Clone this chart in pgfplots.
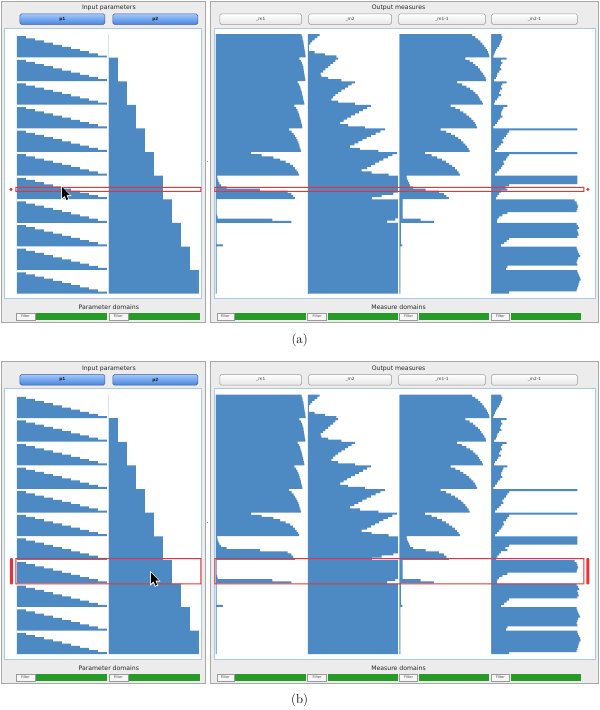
\documentclass[border=0pt]{standalone}
\usepackage{pgfplots}
\pgfplotsset{compat=1.18}
\usepackage{pgfplotstable}
\usepackage{fontspec}
\newfontfamily\ui{DejaVu Sans}
\definecolor{barblue}{RGB}{77,137,194}
\definecolor{framebg}{RGB}{236,236,236}
\definecolor{framedraw}{RGB}{168,168,168}
\definecolor{plotborder}{RGB}{172,202,232}
\definecolor{btop}{RGB}{160,200,250}
\definecolor{bbot}{RGB}{72,132,222}
\definecolor{bdraw}{RGB}{60,90,160}
\definecolor{gbar}{RGB}{38,156,38}
\definecolor{hlred}{RGB}{232,52,52}

\pgfplotstableread{
row p1 p2 m1 m2 m1i m2i
0 0 0 95.6 13.0 80.7 11.1
1 10 0 96.3 10.4 84.4 12.2
2 20 0 96.7 7.5 87.4 11.5
3 30 0 97.4 4.5 90.0 10.4
4 40 0 97.8 2.6 92.2 9.6
5 50 0 98.1 1.1 94.1 8.5
6 60 0 98.5 0.4 95.6 6.7
7 70 0 98.9 0.7 97.0 4.8
8 80 0 99.3 7.5 98.1 3.7
9 90 0 99.6 18.7 99.3 3.0
10 100 0 100 31.7 100 2.2
11 0 10 93.0 33.6 73.3 17.0
12 10 10 94.8 30.6 77.8 10.4
13 20 10 95.9 28.0 81.5 12.2
14 30 10 96.7 25.0 84.4 10.4
15 40 10 97.4 22.4 87.0 9.6
16 50 10 97.8 19.4 89.3 11.1
17 60 10 98.1 16.8 91.1 8.5
18 70 10 98.5 14.2 93.0 6.7
19 80 10 98.9 14.9 94.4 5.9
20 90 10 99.3 22.4 95.6 4.8
21 100 10 99.6 37.3 96.3 3.0
22 0 20 91.1 52.2 64.1 17.0
23 10 20 92.6 48.5 69.6 12.2
24 20 20 93.7 44.8 74.4 10.4
25 30 20 94.4 41.0 78.5 11.5
26 40 20 95.2 37.3 81.9 9.6
27 50 20 95.9 33.6 84.4 8.5
28 60 20 96.3 30.6 86.7 10.4
29 70 20 97.0 28.0 88.5 7.8
30 80 20 97.4 26.1 90.0 5.9
31 90 20 98.1 33.6 91.5 3.7
32 100 20 98.5 52.2 92.6 3.0
33 0 30 87.4 70.1 56.7 17.8
34 10 30 89.3 65.7 62.2 13.3
35 20 30 90.7 61.2 67.0 12.2
36 30 30 91.9 56.7 71.1 11.1
37 40 30 92.6 52.2 74.4 10.4
38 50 30 93.3 47.8 77.4 12.2
39 60 30 94.1 43.7 80.0 9.6
40 70 30 94.8 39.6 82.2 7.4
41 80 30 95.2 35.8 84.1 5.9
42 90 30 95.9 44.8 85.2 3.7
43 100 30 96.3 63.4 86.3 2.2
44 0 40 81.5 85.8 45.6 95.6
45 10 40 84.4 80.6 51.9 19.6
46 20 40 86.7 75.4 57.0 17.8
47 30 40 88.1 70.1 61.5 15.9
48 40 40 89.6 65.3 65.2 14.1
49 50 40 90.7 60.4 68.5 12.2
50 60 40 91.9 56.0 71.1 13.3
51 70 40 92.6 51.5 73.3 10.4
52 80 40 93.3 46.6 75.2 8.5
53 90 40 94.1 57.8 76.7 5.9
54 100 40 94.8 78.4 77.8 3.7
55 0 50 39.3 98.9 28.1 95.6
56 10 50 51.1 94.0 35.6 19.6
57 20 50 64.1 88.8 41.9 17.8
58 30 50 71.5 83.9 47.0 15.9
59 40 50 77.8 79.1 51.5 13.3
60 50 50 82.6 74.6 55.2 14.1
61 60 50 85.9 70.1 58.5 12.2
62 70 50 88.1 65.7 61.5 10.4
63 80 50 90.0 59.7 63.7 8.5
64 90 50 91.5 70.9 65.6 5.9
65 100 50 92.6 89.6 67.0 3.7
66 0 60 1.5 100 7.8 95.6
67 10 60 2.0 100 8.5 95.6
68 20 60 3.0 100 9.6 95.6
69 30 60 4.0 100 10.7 95.6
70 40 60 6.0 100 11.5 19.6
71 50 60 12.0 100 15.0 15.5
72 60 60 49.0 100 28.9 17.8
73 70 60 80.0 100 43.7 10.4
74 80 60 84.0 95.0 49.3 8.5
75 90 60 86.0 82.0 52.0 6.7
76 100 60 88.0 71.0 54.8 4.8
77 0 70 1 100 3.5 92.6
78 10 70 1 100 3.5 94.8
79 20 70 1 100 3.5 95.6
80 30 70 1 100 3.5 96.3
81 40 70 1 100 3.5 95.6
82 50 70 1 100 3.5 94.8
83 60 70 1 100 3.5 17.8
84 70 70 1.5 100 3.5 12.2
85 80 70 2 100 3.5 8.5
86 90 70 63 97 23.3 6.7
87 100 70 84 88 38.1 5.9
88 0 80 1 100 1.5 94.8
89 10 80 1 100 1.5 96.3
90 20 80 1 100 1.5 97.4
91 30 80 1 100 1.5 95.6
92 40 80 1 100 1.5 96.3
93 50 80 1 100 1.5 97.0
94 60 80 1 100 1.5 95.6
95 70 80 1 100 1.5 19.6
96 80 80 1 100 1.5 17.0
97 90 80 1 100 1.5 14.1
98 100 80 8 100 3.0 10.4
99 0 90 1 100 1 94.8
100 10 90 1 100 1 95.6
101 20 90 1 100 1 96.3
102 30 90 1 100 1 97.4
103 40 90 1 100 1 98.5
104 50 90 1 100 1 96.3
105 60 90 1 100 1 95.6
106 70 90 1 100 1 94.8
107 80 90 1 100 1 95.6
108 90 90 1 100 1 17.8
109 100 90 1 100 1 15.9
110 0 100 1 100 1 95.6
111 10 100 1 100 1 96.3
112 20 100 1 100 1 97.4
113 30 100 1 100 1 98.5
114 40 100 1 100 1 99.3
115 50 100 1 100 1 97.8
116 60 100 1 100 1 97.0
117 70 100 1 100 1 96.3
118 80 100 1 100 1 95.6
119 90 100 1 100 1 94.8
120 100 100 1 100 1 19.6
}\data

\pgfplotsset{colax/.style={scale only axis, width=90bp, height=260bp,
  anchor=north west, xmin=0, xmax=100, ymin=-0.5, ymax=120.5,
  y dir=reverse, hide axis, xbar, bar width=0.93}}
\tikzset{barfill/.style={fill=barblue, draw=none}}

\newcommand\basel{\draw[barblue, line width=0.8bp] (axis cs:0,-0.45) -- (axis cs:0,120.45);}

% #1 = vertical offset (bp), #2 = top of rows as negative dimension
\newcommand\panel[2]{%
  \begin{scope}[x=1bp, y=-1bp]
  \filldraw[fill=framebg, draw=framedraw, line width=0.6bp] (1,{1+#1}) rectangle (206,{323+#1});
  \filldraw[fill=framebg, draw=framedraw, line width=0.6bp] (211,{1+#1}) rectangle (599,{323+#1});
  \filldraw[fill=white, draw=plotborder, line width=0.7bp] (4,{28+#1}) rectangle (202,{299+#1});
  \filldraw[fill=white, draw=plotborder, line width=0.7bp] (215,{28+#1}) rectangle (596,{299+#1});
  \fill[black!45] (206.9,{161.5+#1}) rectangle (208.3,{162.5+#1});
  \node[font=\ui\fontsize{6.2}{7}\selectfont, text=black!85] at (109,{8+#1}) {Input parameters};
  \node[font=\ui\fontsize{6.2}{7}\selectfont, text=black!85] at (399,{8+#1}) {Output measures};
  \node[font=\ui\fontsize{6.2}{7}\selectfont, text=black!85] at (109,{307.5+#1}) {Parameter domains};
  \node[font=\ui\fontsize{6.2}{7}\selectfont, text=black!85] at (399,{307.5+#1}) {Measure domains};
  \shadedraw[top color=btop, bottom color=bbot, draw=bdraw, line width=0.5bp, rounded corners=1.5bp] (20,{14+#1}) rectangle (105,{24.5+#1});
  \shadedraw[top color=btop, bottom color=bbot, draw=bdraw, line width=0.5bp, rounded corners=1.5bp] (113,{14+#1}) rectangle (198,{24.5+#1});
  \node[font=\ui\bfseries\fontsize{4.3}{5}\selectfont, text=black!90] at (62.5,{19.3+#1}) {p1};
  \node[font=\ui\bfseries\fontsize{4.3}{5}\selectfont, text=black!90] at (155.5,{19.3+#1}) {p2};
  \foreach \a/\b/\t in {220/302/\_m1, 309/392/\_m2, 399/486/\_m1-1, 492/578/\_m2-1}{
    \shadedraw[top color=white, bottom color=black!10, draw=black!40, line width=0.5bp, rounded corners=1.5bp] (\a,{14+#1}) rectangle (\b,{24.5+#1});
    \node[font=\ui\fontsize{4.3}{5}\selectfont, text=black!80] at ({(\a+\b)/2},{19.3+#1}) {\t};
  }
  \foreach \a/\b/\c in {16/35/107, 109/128/200, 217/234/306, 308/327/398, 400/418/490, 492/510/582}{
    \filldraw[fill=black!3, draw=black!40, line width=0.4bp] (\a,{313.5+#1}) rectangle (\b,{320.5+#1});
    \node[font=\ui\fontsize{3.6}{4}\selectfont, text=black!70] at ({(\a+\b)/2},{317+#1}) {Filter};
    \fill[gbar] ({\b+1.3},{313.3+#1}) rectangle (\c,{320.7+#1});
  }
  \end{scope}
  \begin{axis}[colax, at={(17bp,#2)}]
    \addplot[barfill] table[x=p1, y=row] {\data};
  \end{axis}
  \begin{axis}[colax, at={(109bp,#2)}]
    \basel
    \addplot[barfill] table[x=p2, y=row] {\data};
  \end{axis}
  \begin{axis}[colax, at={(216bp,#2)}]
    \basel
    \addplot[barfill] table[x=m1, y=row] {\data};
  \end{axis}
  \begin{axis}[colax, at={(308.3bp,#2)}]
    \basel
    \addplot[barfill] table[x=m2, y=row] {\data};
  \end{axis}
  \begin{axis}[colax, at={(400bp,#2)}]
    \basel
    \addplot[barfill] table[x=m1i, y=row] {\data};
  \end{axis}
  \begin{axis}[colax, at={(492bp,#2)}]
    \basel
    \addplot[barfill] table[x=m2i, y=row] {\data};
  \end{axis}
}

% frame drawn as a filled ring: #1,#2 top-left, #3,#4 bottom-right
\newcommand\ring[4]{%
  \fill[fill=hlred, even odd rule] (#1-0.5,#2-0.5) rectangle (#3+0.5,#4+0.5) (#1+0.5,#2+0.5) rectangle (#3-0.5,#4-0.5);
}

\newcommand\cursor[2]{%
  \fill[fill=white, shift={(#1,#2)}]
    (-0.8,-1.4) -- (-0.8,13.4) -- (2.5,10.6) -- (4.2,14.4) -- (7.2,13.1) -- (5.7,9.3) -- (9.8,9.3) -- cycle;
  \fill[fill=black, shift={(#1,#2)}]
    (0,0) -- (0,11.5) -- (2.7,8.9) -- (4.6,13.2) -- (6.3,12.4) -- (4.5,8.3) -- (8,8.3) -- cycle;
}

\begin{document}
\begin{tikzpicture}
\begin{scope}[x=1bp, y=-1bp]
\useasboundingbox (0,0) rectangle (600,710);
\fill[white] (0,0) rectangle (600,710);
\end{scope}
\panel{0}{-34bp}
\panel{361}{-395bp}
\begin{scope}[x=1bp, y=-1bp]
% panel (a) overlays
\ring{16}{187.6}{201}{191.6}
\ring{215}{187.6}{584.5}{191.6}
\fill[fill=hlred] (11,189.6) circle (1.7bp);
\fill[fill=hlred] (588.5,189.6) circle (1.7bp);
\cursor{62}{187}
\node[font=\fontsize{13}{15}\selectfont] at (300,341) {(a)};
% panel (b) overlays
\ring{16}{559.3}{201}{584.5}
\ring{215}{559.3}{584.5}{584.5}
\fill[fill=hlred, rounded corners=0.8bp] (9.8,558.8) rectangle (12.8,585);
\fill[fill=hlred, rounded corners=0.8bp] (587,558.8) rectangle (590,585);
\cursor{151}{573}
\node[font=\fontsize{13}{15}\selectfont] at (300,701) {(b)};
\end{scope}
\end{tikzpicture}
\end{document}
